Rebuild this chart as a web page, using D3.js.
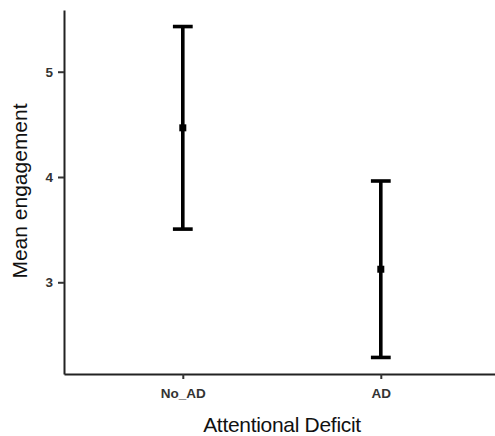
<!DOCTYPE html>
<html>
<head>
<meta charset="utf-8">
<script src="https://cdn.jsdelivr.net/npm/d3@7"></script>
<style>
  body { margin: 0; background: #fff; }
  text { font-family: "Liberation Sans", Arial, sans-serif; }
</style>
</head>
<body>
<script>
// Data
var groups = ["No_AD", "AD"];
var means = [4.467, 3.124];
var upper = [5.429, 3.962];
var lower = [3.505, 2.286];
var yTicks = [3, 4, 5];

var width = 495, height = 436;
var margin = {top: 10, right: 0, bottom: 62, left: 64};

var svg = d3.select("body").append("svg")
    .attr("width", width)
    .attr("height", height);

// Discrete x like ggplot: positions 1..n with 0.6 padding each side
var xScale = d3.scaleLinear()
    .domain([0.4, groups.length + 0.6])
    .range([margin.left, margin.left + 198 * (groups.length + 0.2)]);

var lo = d3.min(lower), hi = d3.max(upper), pad = (hi - lo) * 0.05;
var yScale = d3.scaleLinear()
    .domain([lo - pad, hi + pad])
    .range([height - margin.bottom, margin.top]);

var rows = groups.map(function(g, i) {
  return {g: g, x: i + 1, mean: means[i], up: upper[i], low: lower[i]};
});

// Error bars
var bars = svg.append("g").selectAll("g")
    .data(rows)
    .enter().append("g");

bars.append("line")
    .attr("x1", function(d) { return xScale(d.x); })
    .attr("x2", function(d) { return xScale(d.x); })
    .attr("y1", function(d) { return yScale(d.up); })
    .attr("y2", function(d) { return yScale(d.low); })
    .attr("stroke", "#000").attr("stroke-width", 3.6);

["up", "low"].forEach(function(k) {
  bars.append("line")
      .attr("x1", function(d) { return xScale(d.x - 0.05); })
      .attr("x2", function(d) { return xScale(d.x + 0.05); })
      .attr("y1", function(d) { return yScale(d[k]); })
      .attr("y2", function(d) { return yScale(d[k]); })
      .attr("stroke", "#000").attr("stroke-width", 3.6);
});

// Mean points
bars.append("rect")
    .attr("x", function(d) { return xScale(d.x) - 3.5; })
    .attr("y", function(d) { return yScale(d.mean) - 3.5; })
    .attr("width", 7).attr("height", 7)
    .attr("fill", "#000");

// Axes
var xAxis = d3.axisBottom(xScale)
    .tickValues(rows.map(function(d) { return d.x; }))
    .tickFormat(function(d, i) { return groups[i]; })
    .tickSize(5).tickSizeOuter(0);
var yAxis = d3.axisLeft(yScale)
    .tickValues(yTicks)
    .tickFormat(d3.format("d"))
    .tickSize(6).tickSizeOuter(0);

var gx = svg.append("g")
    .attr("transform", "translate(0," + (height - margin.bottom) + ")")
    .call(xAxis);
var gy = svg.append("g")
    .attr("transform", "translate(" + margin.left + ",0)")
    .call(yAxis);

[gx, gy].forEach(function(g) {
  g.select(".domain").attr("stroke", "#222").attr("stroke-width", 2);
  g.selectAll(".tick line").attr("stroke", "#333").attr("stroke-width", 2);
  g.selectAll(".tick text")
      .attr("fill", "#333")
      .style("font-size", "13.5px")
      .style("font-weight", "bold")
      .style("font-family", "'Liberation Sans', Arial, sans-serif");
});
gx.selectAll(".tick text").attr("dy", "0.71em").attr("y", 14);
gy.selectAll(".tick text").attr("x", -11);

// Axis titles
svg.append("text")
    .attr("x", 282)
    .attr("y", 432)
    .attr("text-anchor", "middle")
    .style("font-size", "21px")
    .style("letter-spacing", "-0.3px")
    .attr("fill", "#111")
    .text("Attentional Deficit");

svg.append("text")
    .attr("transform", "translate(27,191) rotate(-90)")
    .attr("text-anchor", "middle")
    .style("font-size", "21px")
    .attr("fill", "#111")
    .text("Mean engagement");
</script>
</body>
</html>
